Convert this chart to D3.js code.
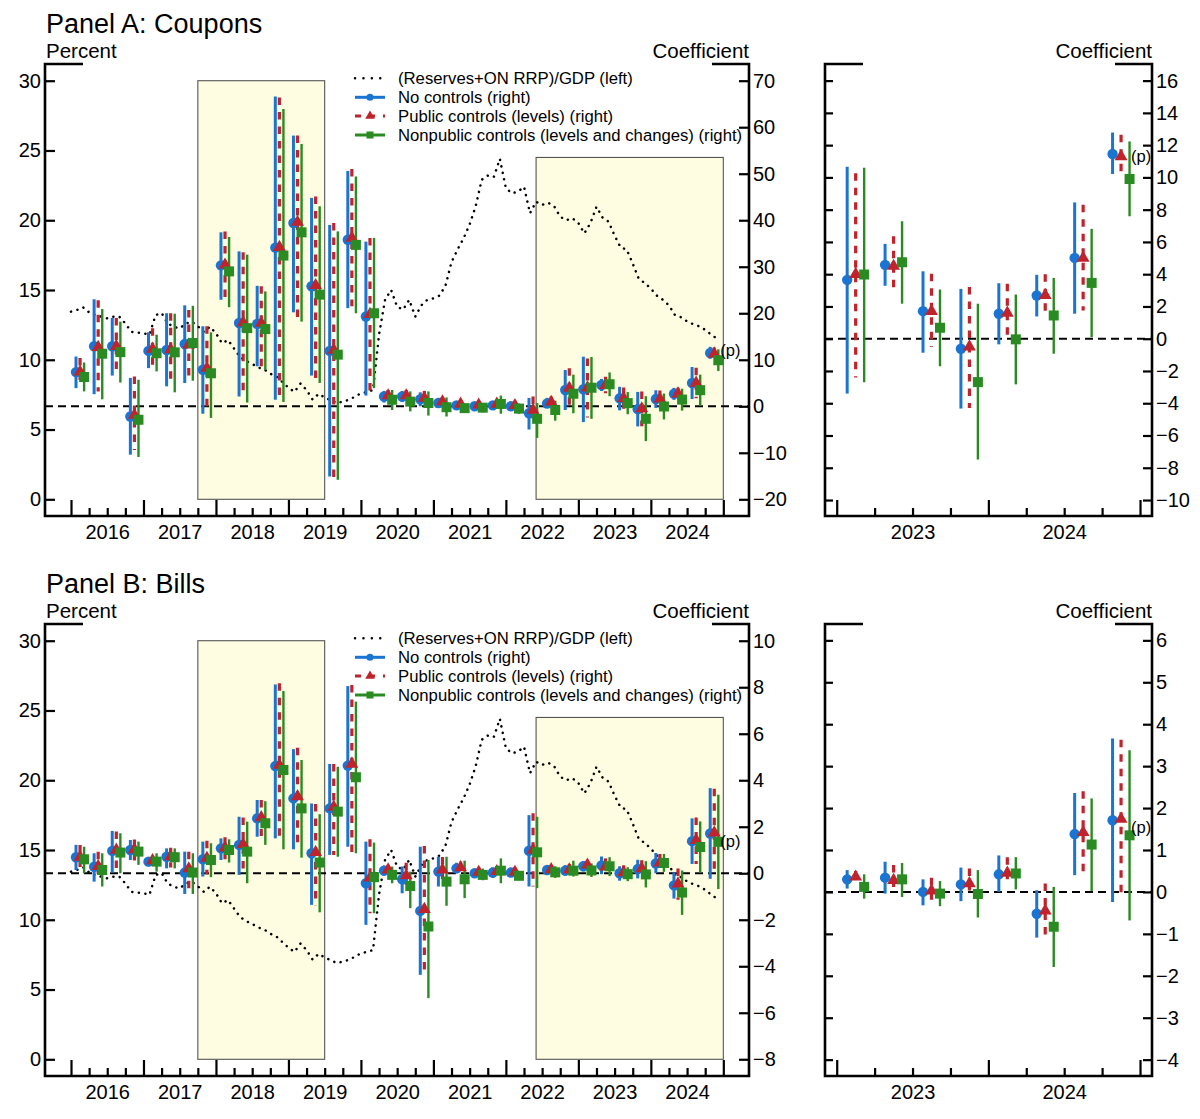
<!DOCTYPE html>
<html><head><meta charset="utf-8">
<script src="https://cdn.jsdelivr.net/npm/d3@7"></script>
<style>
body{margin:0;background:#fff}
svg text{font-family:"Liberation Sans",Arial,Helvetica,sans-serif;fill:#000}
</style>
</head><body>
<svg id="c" width="1200" height="1119"></svg>
<script>
// ---------------- DATA ----------------
const quarters = ["2016Q1","2016Q2","2016Q3","2016Q4","2017Q1","2017Q2","2017Q3","2017Q4",
  "2018Q1","2018Q2","2018Q3","2018Q4","2019Q1","2019Q2","2019Q3","2019Q4",
  "2020Q1","2020Q2","2020Q3","2020Q4","2021Q1","2021Q2","2021Q3","2021Q4",
  "2022Q1","2022Q2","2022Q3","2022Q4","2023Q1","2023Q2","2023Q3","2023Q4",
  "2024Q1","2024Q2","2024Q3","2024Q4"];

// (Reserves+ON RRP)/GDP, percent, monthly from Jan 2016
const reservesStartYear = 2016;
const reservesGDP = [
  13.45,13.57,13.76,13.4,13.2,13.09,12.97,13.09,13.1,12.6,12.0,11.95,
  11.9,11.8,13.2,13.35,12.6,12.37,12.25,12.6,12.73,12.4,12.0,12.37,
  11.9,11.18,11.42,10.8,10.2,9.9,9.7,9.45,9.3,9.0,8.8,8.4,
  8.0,7.7,8.3,7.83,7.15,7.55,7.3,7.1,6.9,7.0,7.13,7.35,
  7.6,7.7,7.83,11.8,14.3,15.0,13.8,13.6,14.3,13.1,13.9,14.3,
  14.4,14.6,15.3,17.0,17.9,18.7,19.7,21.0,22.9,23.2,23.1,24.4,
  22.3,21.93,22.05,22.4,20.5,21.33,21.1,21.25,21.0,20.25,20.0,20.15,
  19.8,19.06,19.8,20.97,20.2,19.9,18.9,18.05,17.9,16.9,15.8,15.5,
  15.1,14.6,14.3,13.9,13.2,13.05,12.75,12.55,12.4,12.15,11.8,11.5];

// Panel A: Coupons (coefficients)
const couponNoCtrl   = [7.35,12.9,12.9,-2.2,11.9,12.1,13.4,7.85,30.3,17.9,17.7,34.1,39.4,25.8,11.9,35.8,19.3,2.1,2.1,1.5,0.7,0.2,0.0,0.2,0.0,-1.5,0.6,3.5,3.65,4.58,1.71,-0.62,1.55,2.68,5.01,11.45];
const couponNoCtrlLo = [3.9,2.6,6.6,-10.4,8.2,4.3,5.0,-1.6,22.9,2.1,8.6,1.4,20.2,6.6,-15.1,21.1,2.3,0.8,0.9,0.0,-0.3,-0.7,-0.7,-0.6,-0.7,-5.0,-0.3,-0.8,-3.4,3.28,-0.87,-4.33,-0.35,1.38,1.55,10.21];
const couponNoCtrlHi = [10.7,23.0,19.0,6.1,15.9,20.0,21.7,17.2,37.4,33.3,25.9,66.6,58.2,44.8,39.0,50.6,35.4,3.3,3.3,3.0,1.8,1.0,0.7,1.0,0.7,1.8,1.8,7.8,10.66,5.88,4.18,3.09,3.44,3.96,8.45,12.78];
const couponPublic   = [7.4,12.7,12.9,-1.9,12.3,12.2,13.2,8.2,30.4,18.0,17.9,34.2,39.6,26.0,12.1,36.2,19.8,2.3,2.3,1.8,1.0,0.5,0.3,0.5,0.2,-0.8,0.9,3.9,4.0,4.5,1.7,-0.5,1.6,2.7,5.0,11.3];
const couponPublicLo = [5.1,3.2,7.2,-9.4,8.7,4.6,5.3,-0.5,22.3,2.5,8.2,1.0,18.6,5.0,-15.7,21.5,2.8,1.0,1.0,0.2,-0.1,-0.5,-0.5,-0.4,-0.6,-3.6,0.0,0.0,-2.4,2.78,-0.52,-4.3,-0.1,1.5,1.75,10.1];
const couponPublicHi = [10.4,22.8,19.0,6.4,16.8,20.0,20.7,17.2,37.6,33.1,25.8,66.4,58.2,45.1,39.4,51.0,36.2,3.5,3.5,3.3,2.0,1.3,1.0,1.3,1.0,2.1,2.1,8.2,10.25,6.35,4.02,3.2,3.4,4.0,8.3,12.64];
const couponNonpub   = [6.3,11.3,11.65,-2.9,11.4,11.6,13.6,7.1,29.0,16.8,16.6,32.4,37.4,24.0,11.1,34.7,20.0,1.4,1.0,0.7,-0.2,-0.4,-0.3,0.5,-0.5,-2.7,-0.8,2.7,3.98,4.74,0.68,-2.69,-0.04,1.44,3.46,9.9];
const couponNonpubLo = [3.2,1.5,5.1,-10.9,7.5,3.0,5.5,-2.5,21.3,0.8,7.8,0.9,18.2,5.0,-15.8,20.0,3.9,-0.8,-1.1,-2.0,-2.2,-1.4,-1.3,-1.6,-1.6,-6.8,-3.1,-1.5,-2.7,2.17,-1.71,-7.49,-2.83,-0.93,0.1,7.59];
const couponNonpubHi = [9.4,20.9,18.2,5.7,15.4,19.9,21.6,15.9,36.4,32.6,24.7,63.9,56.4,43.0,37.6,49.4,36.2,3.5,3.2,3.2,1.9,0.3,0.6,2.3,0.6,0.7,1.2,6.8,10.6,7.28,3.05,2.17,2.74,3.77,6.81,12.23];

// Panel B: Bills (coefficients)
const billNoCtrl   = [0.69,0.28,0.96,1.0,0.5,0.71,0.03,0.6,1.07,1.22,2.36,4.61,3.22,0.86,2.79,4.63,-0.43,0.11,-0.26,-1.62,0.07,0.21,0.0,0.03,0.03,0.97,0.14,0.11,0.30,0.34,0.0,0.18,0.42,-0.52,1.38,1.71];
const billNoCtrlLo = [0.14,-0.36,0.03,0.57,0.3,0.21,-0.89,-0.14,0.57,-0.07,1.57,1.5,1.03,-1.36,0.79,1.14,-2.22,-0.1,-0.86,-4.37,-0.57,0.0,-0.15,-0.2,-0.15,-0.57,0.0,-0.1,0.08,-0.04,-0.32,-0.22,0.0,-1.09,0.4,-0.24];
const billNoCtrlHi = [1.22,0.86,1.82,1.43,0.7,1.07,0.93,1.36,1.5,2.43,3.15,8.12,5.34,3.0,4.7,8.05,1.36,0.3,0.29,1.14,0.71,0.45,0.2,0.25,0.2,2.5,0.3,0.35,0.52,0.72,0.3,0.58,0.87,0.04,2.36,3.66];
const billPublic   = [0.7,0.3,1.0,1.02,0.55,0.72,0.2,0.65,1.1,1.25,2.4,4.65,3.3,0.9,2.85,4.7,-0.2,0.15,-0.1,-1.55,0.15,0.25,0.05,0.08,0.05,1.0,0.16,0.15,0.36,0.28,0.03,0.2,0.45,-0.45,1.42,1.74];
const billPublicLo = [0.2,-0.2,0.05,0.55,0.3,0.25,-0.72,-0.05,0.6,0.0,1.6,1.43,1.07,-1.4,0.79,0.86,-1.72,-0.05,-0.6,-4.16,-0.4,0.0,-0.15,-0.15,-0.15,-0.57,0.0,-0.05,0.2,0.08,-0.24,-0.04,0.24,-1.14,0.4,-0.06];
const billPublicHi = [1.22,0.93,1.8,1.45,0.75,1.1,0.93,1.4,1.55,2.4,3.15,8.17,5.4,2.98,4.7,8.1,1.46,0.35,0.45,1.17,0.7,0.5,0.25,0.3,0.25,2.58,0.35,0.4,0.5,0.64,0.34,0.56,0.83,0.2,2.4,3.63];
const billNonpub   = [0.6,0.14,0.89,0.93,0.5,0.69,0.03,0.57,1.0,0.93,2.15,4.44,2.79,0.46,2.65,4.13,-0.17,-0.07,-0.55,-2.29,-0.36,-0.26,-0.07,0.11,-0.11,0.9,0.04,0.11,0.12,0.3,-0.04,-0.05,0.44,-0.83,1.13,1.35];
const billNonpubLo = [0.0,-0.57,0.0,0.36,0.07,0.21,-0.89,-0.17,0.46,-0.43,1.22,1.03,0.67,-1.68,0.71,0.86,-1.72,-0.43,-1.5,-5.37,-1.4,-1.07,-0.3,-0.43,-0.3,-0.64,-0.2,-0.14,-0.16,-0.12,-0.34,-0.61,0.06,-1.79,0.02,-0.68];
const billNonpubHi = [1.14,0.86,1.72,1.36,0.86,1.07,0.86,1.29,1.46,2.22,3.1,7.84,4.87,2.54,4.58,7.38,1.32,0.29,0.07,0.57,0.71,0.54,0.2,0.64,0.1,2.43,0.3,0.54,0.42,0.69,0.26,0.52,0.83,0.12,2.23,3.38];

// shaded periods [start, end, top (left axis, percent)]
const shadedPeriods = [[2017.75, 2019.5, 30], [2022.4167, 2025.0, 24.5]];

const yearLabels = [2016,2017,2018,2019,2020,2021,2022,2023,2024];
const zoomYearLabels = [2023,2024];
const leftTicks = [0,5,10,15,20,25,30];
const couponTicks = [-20,-10,0,10,20,30,40,50,60,70];
const couponZoomTicks = [-10,-8,-6,-4,-2,0,2,4,6,8,10,12,14,16];
const billTicks = [-8,-6,-4,-2,0,2,4,6,8,10];
const billZoomTicks = [-4,-3,-2,-1,0,1,2,3,4,5,6];
const legendLabels = ["(Reserves+ON RRP)/GDP (left)","No controls (right)","Public controls (levels) (right)","Nonpublic controls (levels and changes) (right)"];

// ---------------- DRAWING ----------------
const BLUE="#1a74d2", RED="#c0232b", GREEN="#2a8b22", SHADE="#fefde1";
const svg = d3.select("#c");
const qPos = q => +q.slice(0,4) + (+q.slice(5)-1)/4 + 0.125;

function txt(g, x, y, s, size, anchor){
  return g.append("text").attr("x",x).attr("y",y).attr("font-size",size)
    .attr("text-anchor",anchor||"start").text(s);
}

function plotCoefs(g, x, y, idx, S){
  const qw = x(0.25) - x(0);
  const dx = 0.224*qw;
  const defs = [
    {v:S[0],lo:S[1],hi:S[2],c:BLUE, o:-dx, w:3,   dash:null,  sym:d3.symbolCircle,  size:85},
    {v:S[3],lo:S[4],hi:S[5],c:RED,  o:0,   w:3.2, dash:"7.5,7", sym:d3.symbolTriangle,size:72},
    {v:S[6],lo:S[7],hi:S[8],c:GREEN,o:dx,  w:2.4, dash:null,  sym:d3.symbolSquare,  size:100}
  ];
  defs.forEach(d=>{
    g.append("g").selectAll("line").data(idx).join("line")
      .attr("x1",i=>x(qPos(quarters[i]))+d.o).attr("x2",i=>x(qPos(quarters[i]))+d.o)
      .attr("y1",i=>y(d.hi[i])).attr("y2",i=>y(d.lo[i]))
      .attr("stroke",d.c).attr("stroke-width",d.w)
      .attr("stroke-dasharray",d.dash);
  });
  defs.forEach(d=>{
    g.append("g").selectAll("path").data(idx).join("path")
      .attr("d",d3.symbol(d.sym,d.size))
      .attr("transform",i=>`translate(${x(qPos(quarters[i]))+d.o},${y(d.v[i])})`)
      .attr("fill",d.c);
  });
  return defs;
}

function frame(g,x0,x1,y0,y1){
  g.append("path")
    .attr("d",`M${x0+38},${y0}H${x0}V${y1}H${x1}V${y0}H${x1-37}`)
    .attr("fill","none").attr("stroke","#000").attr("stroke-width",2.6);
}

function xAxis(g, x, y1, y0yr, y1yr, labels){
  const yrTicks = d3.range(y0yr, y1yr+1);
  const qTicks = [];
  for(let yy=y0yr; yy<y1yr; yy++){ qTicks.push(yy+0.25, yy+0.5, yy+0.75); }
  g.append("g").attr("transform",`translate(0,${y1})`)
    .call(d3.axisBottom(x).tickValues(yrTicks).tickSize(-16).tickFormat(""))
    .call(a=>a.select(".domain").remove())
    .call(a=>a.selectAll("line").attr("stroke-width",2.2));
  g.append("g").attr("transform",`translate(0,${y1})`)
    .call(d3.axisBottom(x).tickValues(qTicks).tickSize(-8).tickFormat(""))
    .call(a=>a.select(".domain").remove())
    .call(a=>a.selectAll("line").attr("stroke-width",2.2));
  g.append("g").attr("transform",`translate(0,${y1})`)
    .call(d3.axisBottom(x).tickValues(labels.map(v=>v+0.5)).tickSize(0).tickPadding(9).tickFormat(v=>String(Math.floor(v))))
    .call(a=>a.select(".domain").remove())
    .call(a=>a.selectAll("text").attr("font-size",20).attr("font-family",null));
}

function yAxis(g, scale, xpos, ticks, side, len, labels){
  const ax = side==="left" ? d3.axisLeft(scale) : d3.axisRight(scale);
  ax.tickValues(ticks).tickSize(-len).tickPadding(4);
  if(!labels) ax.tickFormat("");
  else ax.tickFormat(d=> d<0 ? "\u2212"+Math.abs(d) : String(d));
  g.append("g").attr("transform",`translate(${xpos},0)`).call(ax)
    .call(a=>a.select(".domain").remove())
    .call(a=>a.selectAll("line").attr("stroke-width",2.2))
    .call(a=>a.selectAll("text").attr("font-size",20).attr("font-family",null));
}

function drawPanel(P){
  const off=P.off, y0=64+off, y1=516+off;
  const g = svg.append("g");
  txt(g,46,33+off,P.title,27);
  txt(g,46,58+off,"Percent",20.5);
  txt(g,749,58+off,"Coefficient",20.5,"end");
  txt(g,1152,58+off,"Coefficient",20.5,"end");

  // ----- main plot -----
  const x = d3.scaleLinear().domain([2015.6413,2025.3543]).range([45,749]);
  const yL = d3.scaleLinear().domain([-1.197,31.198]).range([y1,y0]);
  const yR = d3.scaleLinear().domain(P.rDom).range([y1,y0]);

  g.append("g").selectAll("rect").data(shadedPeriods).join("rect")
    .attr("x",d=>x(d[0])).attr("width",d=>x(d[1])-x(d[0]))
    .attr("y",d=>yL(d[2])).attr("height",d=>yL(0)-yL(d[2]))
    .attr("fill",SHADE).attr("stroke","#555").attr("stroke-width",1.1);

  const line = d3.line().x((d,i)=>x(reservesStartYear+i/12)).y(d=>yL(d));
  g.append("path").attr("d",line(reservesGDP)).attr("fill","none")
    .attr("stroke","#000").attr("stroke-width",2.5)
    .attr("stroke-dasharray","0.1,6.5").attr("stroke-linecap","round");

  g.append("line").attr("x1",45).attr("x2",749).attr("y1",yR(0)).attr("y2",yR(0))
    .attr("stroke","#000").attr("stroke-width",2).attr("stroke-dasharray","8,5");

  const defs = plotCoefs(g,x,yR,d3.range(quarters.length),P.S);
  frame(g,45,749,y0,y1);
  xAxis(g,x,y1,2016,2025,yearLabels);
  yAxis(g,yL,45,leftTicks,"left",10,true);
  yAxis(g,yR,749,P.rTicks,"right",10,true);

  const last = quarters.length-1;
  txt(g, x(qPos(quarters[last]))+6, yR(P.pMain), "(p)", 16.5).attr("dy","0.35em");

  // legend
  const lx=355, rows=[14.3,33.3,52,71].map(v=>y0+v);
  const lg = g.append("g");
  lg.append("line").attr("x1",lx).attr("x2",lx+27).attr("y1",rows[0]).attr("y2",rows[0])
    .attr("stroke","#000").attr("stroke-width",2.4).attr("stroke-dasharray","0.1,8.3").attr("stroke-linecap","round");
  defs.forEach((d,k)=>{
    const yy=rows[k+1];
    lg.append("line").attr("x1",lx).attr("x2",lx+30).attr("y1",yy).attr("y2",yy)
      .attr("stroke",d.c).attr("stroke-width",3).attr("stroke-dasharray",d.dash? "6,8":null);
    lg.append("path").attr("d",d3.symbol(d.sym,[40,40,50][k]))
      .attr("transform",`translate(${lx+15},${yy})`).attr("fill",d.c);
  });
  legendLabels.forEach((s,k)=> txt(lg,398,rows[k],s,16.7).attr("dy","0.35em"));

  // ----- zoom plot -----
  const xz = d3.scaleLinear().domain([2022.9228,2025.079]).range([825,1152]);
  const yz = d3.scaleLinear().domain(P.zDom).range([y1,y0]);
  g.append("line").attr("x1",825).attr("x2",1152).attr("y1",yz(0)).attr("y2",yz(0))
    .attr("stroke","#000").attr("stroke-width",2).attr("stroke-dasharray","8,5");
  plotCoefs(g,xz,yz,d3.range(28,36),P.S);
  frame(g,825,1152,y0,y1);
  xAxis(g,xz,y1,2023,2025,zoomYearLabels);
  yAxis(g,yz,825,P.zTicks,"left",8,false);
  yAxis(g,yz,1152,P.zTicks,"right",9,true);
  txt(g, xz(qPos(quarters[last]))+10, yz(P.pZoom), "(p)", 16.5).attr("dy","0.35em");
}

drawPanel({off:0, title:"Panel A: Coupons",
  S:[couponNoCtrl,couponNoCtrlLo,couponNoCtrlHi,couponPublic,couponPublicLo,couponPublicHi,couponNonpub,couponNonpubLo,couponNonpubHi],
  rDom:[-23.59,73.59], rTicks:couponTicks, zDom:[-10.99,17.03], zTicks:couponZoomTicks, pMain:12.15, pZoom:11.34});
drawPanel({off:560, title:"Panel B: Bills",
  S:[billNoCtrl,billNoCtrlLo,billNoCtrlHi,billPublic,billPublicLo,billPublicHi,billNonpub,billNonpubLo,billNonpubHi],
  rDom:[-8.72,10.72], rTicks:billTicks, zDom:[-4.39,6.39], zTicks:billZoomTicks, pMain:1.36, pZoom:1.55});
</script>
</body></html>
